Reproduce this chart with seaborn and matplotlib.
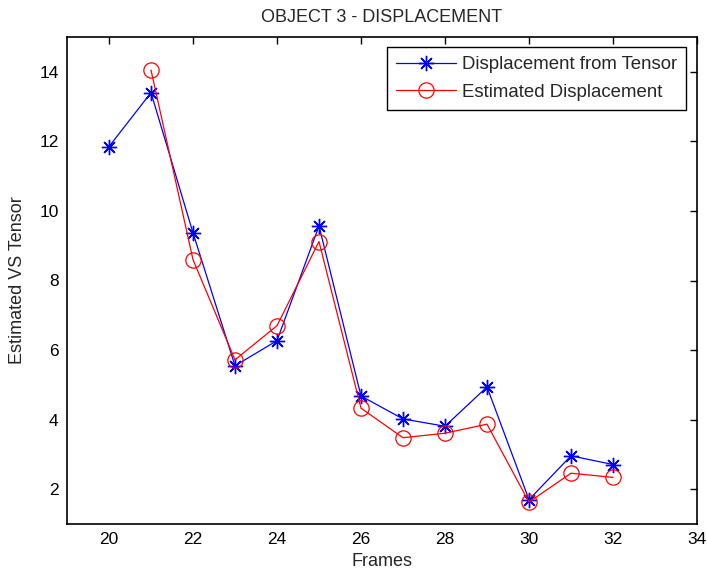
import matplotlib
matplotlib.use("Agg")
import matplotlib.pyplot as plt
import seaborn as sns
import pandas as pd
import numpy as np

frames_tensor = [20, 21, 22, 23, 24, 25, 26, 27, 28, 29, 30, 31, 32]
disp_tensor = [11.85, 13.4, 9.37, 5.55, 6.27, 9.57, 4.68, 4.02, 3.81, 4.94, 1.70, 2.96, 2.71]
frames_est = [21, 22, 23, 24, 25, 26, 27, 28, 29, 30, 31, 32]
disp_est = [14.05, 8.6, 5.72, 6.7, 9.12, 4.33, 3.48, 3.61, 3.87, 1.63, 2.46, 2.34]

label_tensor = "Displacement from Tensor"
label_est = "Estimated Displacement"
title = "OBJECT 3 - DISPLACEMENT"
xlabel = "Frames"
ylabel = "Estimated VS Tensor"
xticks = [20, 22, 24, 26, 28, 30, 32, 34]
yticks = [2, 4, 6, 8, 10, 12, 14]

sns.set_style("white")
plt.rcParams['font.family'] = ['Liberation Sans', 'DejaVu Sans']

df_t = pd.DataFrame({"Frames": frames_tensor, "Value": disp_tensor})
df_e = pd.DataFrame({"Frames": frames_est, "Value": disp_est})

W, H = 707, 579
L, R, T, B = 67, 697, 37, 524
fig = plt.figure(figsize=(W / 100, H / 100), dpi=100)
ax = fig.add_axes([L / W, 1 - B / H, (R - L) / W, (B - T) / H])

sns.lineplot(data=df_t, x="Frames", y="Value", ax=ax, color="#0000ff",
             marker=(8, 2, 0), markersize=11, markeredgewidth=1.0,
             markeredgecolor="#0000ff", linewidth=0.9, label=label_tensor)
sns.lineplot(data=df_e, x="Frames", y="Value", ax=ax, color="#ff0000",
             marker="o", markersize=11, markerfacecolor="none",
             markeredgecolor="#ff0000", markeredgewidth=0.9,
             linewidth=0.9, label=label_est)

ax.set_xlim(19, 34)
ax.set_ylim(1, 15)
ax.set_xticks(xticks)
ax.set_yticks(yticks)
ax.tick_params(direction="in", top=True, right=True, length=5, width=1,
               labelsize=12.5, colors="black", pad=6)
for s in ax.spines.values():
    s.set_color("black")
    s.set_linewidth(1.2)

ax.set_xlabel(xlabel, fontsize=13)
ax.set_ylabel(ylabel, fontsize=13)
ax.xaxis.set_label_coords(0.5, -(562 - B) / (B - T))
ax.xaxis.label.set_va("center")
ax.yaxis.set_label_coords(-(L - 18) / (R - L), 0.5)
ax.yaxis.label.set_va("center")
ax.set_title(title, fontsize=13, y=1 + (T - 17) / (B - T), va="center", pad=0)

leg = ax.legend(loc="upper right",
                bbox_to_anchor=((686 - L) / (R - L), (B - 47) / (B - T)),
                borderaxespad=0, fancybox=False, edgecolor="black", framealpha=1,
                fontsize=13.4, handlelength=3.2, labelspacing=0.55, borderpad=0.5,
                handletextpad=0.3)
leg.get_frame().set_linewidth(1.0)

fig.savefig("out.png", dpi=100, facecolor="white")
